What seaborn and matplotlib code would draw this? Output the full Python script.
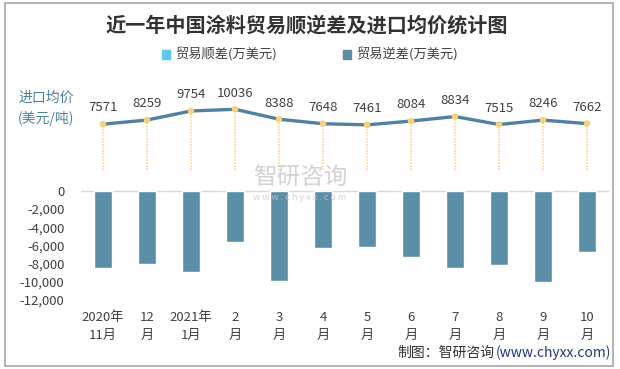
import matplotlib
matplotlib.use("Agg")
import matplotlib.pyplot as plt
import matplotlib.ticker as mticker
from matplotlib.patches import Patch, Rectangle
import pandas as pd
import seaborn as sns

# ─────────────────────────────────────────────
# DATA
# ─────────────────────────────────────────────
months = ["2020年\n11月", "12\n月", "2021年\n1月", "2\n月", "3\n月", "4\n月",
          "5\n月", "6\n月", "7\n月", "8\n月", "9\n月", "10\n月"]
trade_deficit = [-8460, -8020, -8900, -5600, -9890, -6260,
                 -6150, -7250, -8460, -8130, -10000, -6700]
import_price = [7571, 8259, 9754, 10036, 8388, 7648,
                7461, 8084, 8834, 7515, 8246, 7662]
y_ticks = [0, -2000, -4000, -6000, -8000, -10000, -12000]

BAR_COLOR = "#5b8fa8"
SURPLUS_COLOR = "#5bc8f0"
LINE_COLOR = "#4f81a0"
DOT_COLOR = "#f9d173"
TEXT_COLOR = "#404040"

sns.set_theme(style="white")
plt.rcParams["font.family"] = ["Noto Sans CJK SC", "DejaVu Sans"]
plt.rcParams["axes.unicode_minus"] = False

df = pd.DataFrame({"month": months, "deficit": trade_deficit, "price": import_price})

fig = plt.figure(figsize=(6.2, 3.69), dpi=100)
fig.patches.append(Rectangle((5 / 620, 3 / 369), 608 / 620, 363 / 369,
                             transform=fig.transFigure, fill=False,
                             edgecolor="#a6a6a6", linewidth=1.2))

ax = fig.add_axes([81 / 620, 69 / 369, 528 / 620, 200 / 369])
sns.barplot(data=df, x="month", y="deficit", color=BAR_COLOR, width=0.41,
            saturation=1, ax=ax)
ax.set_xlim(-0.5, len(months) - 0.5)
ax.set_ylim(-12000, 10000)
ax.yaxis.set_major_locator(mticker.FixedLocator(y_ticks))
ax.yaxis.set_major_formatter(mticker.FuncFormatter(lambda v, p: f"{int(v):,}"))
ax.axhline(0, color="#d9d9d9", linewidth=1, zorder=0)
for s in ax.spines.values():
    s.set_visible(False)
ax.set_xlabel("")
ax.set_ylabel("")
ax.tick_params(axis="y", length=0, pad=12, labelsize=9.5, labelcolor=TEXT_COLOR)
ax.tick_params(axis="x", length=0, pad=8, labelsize=9.5, labelcolor=TEXT_COLOR)
for lbl in ax.get_xticklabels():
    lbl.set_linespacing(1.45)

# price line on hidden twin axis
ax2 = ax.twinx()
sns.lineplot(x=range(len(months)), y=import_price, ax=ax2, color=LINE_COLOR,
             linewidth=2.4, zorder=3)
ax2.scatter(range(len(months)), import_price, s=22, color=DOT_COLOR, zorder=4,
            edgecolors="none")
ax2.vlines(range(len(months)), 0, import_price, colors=DOT_COLOR,
           linestyles=(0, (1, 1)), linewidth=1.1, zorder=2)
for i, v in enumerate(import_price):
    ax2.annotate(str(v), (i, v), xytext=(0, 7), textcoords="offset points",
                 ha="center", va="bottom", fontsize=9.5, color=TEXT_COLOR)
ax2.set_ylim(-21500, 11570)
ax2.set_xlim(-0.5, len(months) - 0.5)
ax2.axis("off")

# watermark
fig.text(300 / 620, 1 - 178 / 369, "智研咨询", fontsize=17, color="#c8c8c8",
         ha="center", va="center", alpha=0.8)
fig.text(300 / 620, 1 - 197 / 369, "w w w . c h y x x . c o m", fontsize=6.5,
         color="#c8c8c8", ha="center", va="center", alpha=0.8)

# titles & annotations
fig.text(0.494, 1 - 25 / 369, "近一年中国涂料贸易顺逆差及进口均价统计图",
         fontsize=14.5, fontweight="bold", color="#333333", ha="center", va="center")
handles = [Patch(color=SURPLUS_COLOR, label="贸易顺差(万美元)"),
           Patch(color=BAR_COLOR, label="贸易逆差(万美元)")]
fig.legend(handles=handles, loc="center", bbox_to_anchor=(0.5, 1 - 55 / 369),
           ncol=2, frameon=False, fontsize=9.5, handlelength=0.6, handleheight=0.6,
           handletextpad=0.4, columnspacing=5, labelcolor=TEXT_COLOR)
fig.text(18 / 620, 1 - 108 / 369, "进口均价\n(美元/吨)", fontsize=10,
         color=LINE_COLOR, ha="left", va="center", linespacing=1.5)

# source note: url right-aligned, Chinese part attached to its left edge
url = fig.text(611 / 620, 1 - 353 / 369, "(www.chyxx.com)", fontsize=10,
               color="#1f3a7a", ha="right", va="center")
fig.text(0, 0, "")
ax.annotate("制图：智研咨询", xy=(0, 0.5), xycoords=url, xytext=(-1, 0),
            textcoords="offset points", fontsize=10, color="#333333",
            ha="right", va="center", annotation_clip=False)

fig.savefig("out.png", dpi=100)
